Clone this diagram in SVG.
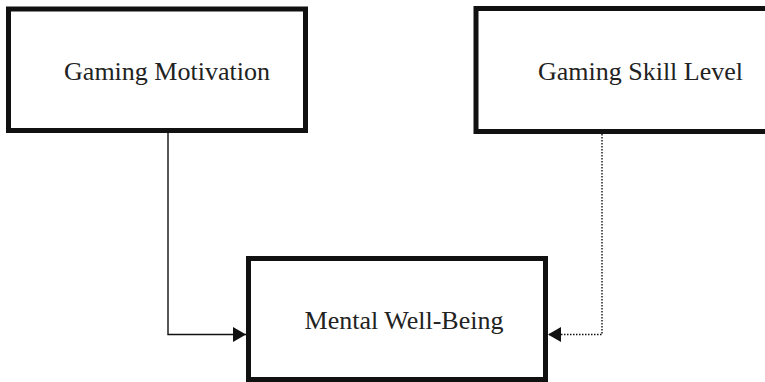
<svg xmlns="http://www.w3.org/2000/svg" width="765" height="382" viewBox="0 0 765 382">
  <style>
    .box { fill: #ffffff; stroke: #111111; stroke-width: 5; }
    .label { font-family: "Liberation Serif", "Times New Roman", serif; font-size: 26px; fill: #222222; text-anchor: middle; }
    .link { fill: none; stroke: #111111; stroke-width: 1.4; }
    .dotted { stroke-dasharray: 1.5 1.5; }
  </style>
  <defs>
    <marker id="arrow" viewBox="0 0 13 15" refX="13" refY="7.5" markerWidth="13" markerHeight="15" markerUnits="userSpaceOnUse" orient="auto">
      <path d="M0,0 L13,7.5 L0,15 Z" fill="#111111"/>
    </marker>
  </defs>

  <g id="connectors">
    <path class="link" d="M168,133 V334.5 H246" marker-end="url(#arrow)"/>
    <path class="link dotted" d="M602,134 V334.5 H548" marker-end="url(#arrow)"/>
  </g>

  <g id="gaming-motivation">
    <rect class="box" x="8.5" y="9" width="297" height="121.5"/>
    <text class="label" x="167" y="80">Gaming Motivation</text>
  </g>

  <g id="gaming-skill-level">
    <rect class="box" x="476" y="8.5" width="300" height="123"/>
    <text class="label" x="640.5" y="80">Gaming Skill Level</text>
  </g>

  <g id="mental-well-being">
    <rect class="box" x="248.5" y="258.5" width="297" height="121"/>
    <text class="label" x="404" y="329">Mental Well-Being</text>
  </g>
</svg>
